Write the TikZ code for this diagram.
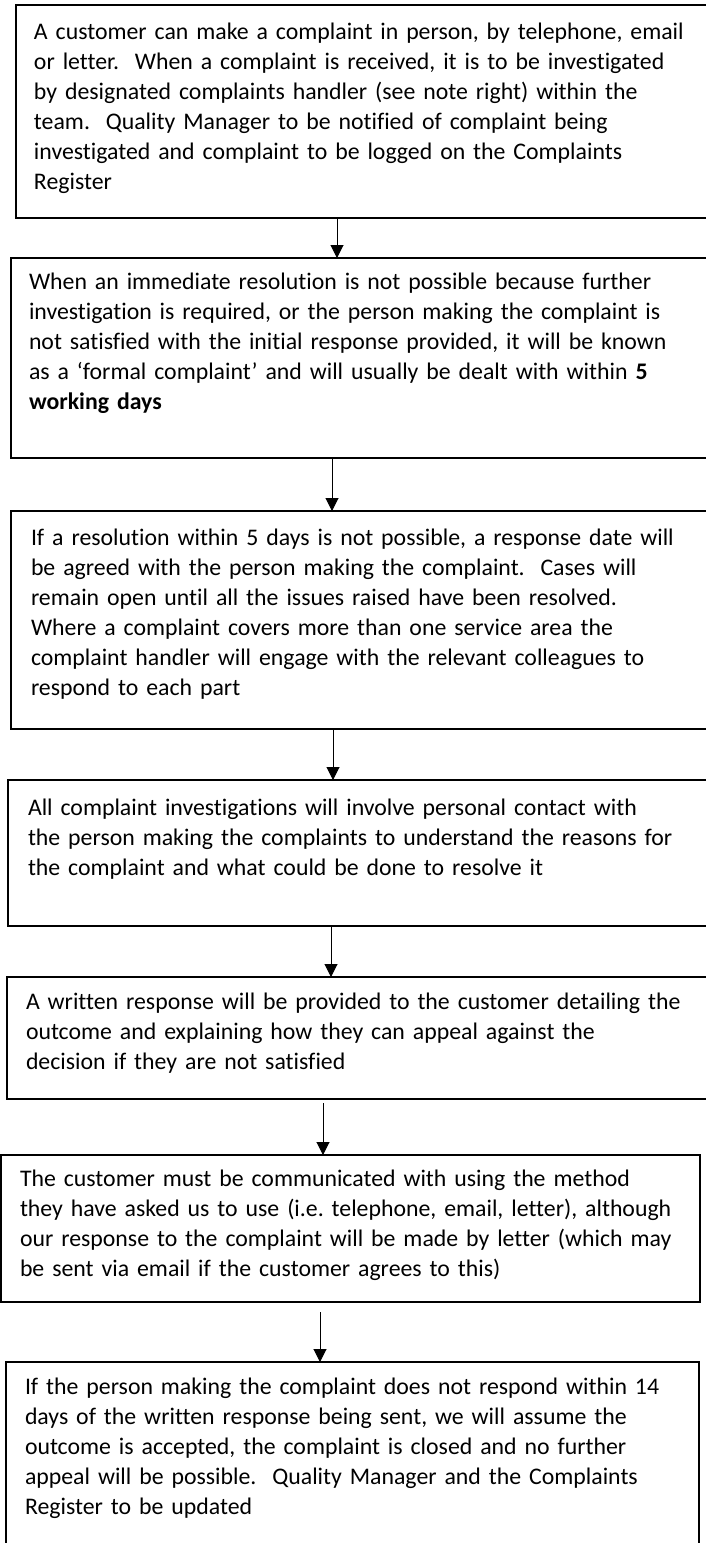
\documentclass[tikz,border=0pt]{standalone}
\usepackage{fontspec}
\setmainfont{Carlito}[RawFeature={-liga}]
\usetikzlibrary{arrows.meta}
\tikzset{
  box/.style={draw=black, line width=1.6pt, inner sep=0pt, outer sep=0pt, anchor=north west},
  txt/.style={anchor=base west, inner sep=0pt, outer sep=0pt, text width=700pt, align=left,
              font=\fontsize{23.8}{30}\selectfont\frenchspacing},
  arr/.style={line width=1pt, -{Triangle[width=13pt,length=13pt]}}
}
\begin{document}
\begin{tikzpicture}[x=1pt,y=-1pt]
\useasboundingbox (0,0) rectangle (706,1543);
\clip (0,0) rectangle (706,1543);
\fill[white] (0,0) rectangle (706,1543);
% boxes
\node[box, line width=2.2pt, minimum width=714pt, minimum height=213pt] (b1) at (16,5) {};
\node[box, minimum width=719pt, minimum height=200pt] (b2) at (11,258) {};
\node[box, minimum width=719pt, minimum height=218pt] (b3) at (11,511) {};
\node[box, minimum width=722pt, minimum height=146pt] (b4) at (8,780) {};
\node[box, minimum width=723pt, minimum height=122pt] (b5) at (7,977) {};
\node[box, minimum width=699pt, minimum height=147pt] (b6) at (1,1155) {};
\node[box, minimum width=693pt, minimum height=220pt] (b7) at (6,1362) {};
% texts
\node[txt] (t1) at (34,39) {A customer can make a complaint in person, by telephone, email\\
or letter.~~When a complaint is received, it is to be investigated\\
by designated complaints handler (see note right) within the\\
team.~~Quality Manager to be notified of complaint being\\
investigated and complaint to be logged on the Complaints\\
Register};
\node[txt] (t2) at (29,289) {When an immediate resolution is not possible because further\\
investigation is required, or the person making the complaint is\\
not satisfied with the initial response provided, it will be known\\
as a `formal complaint' and will usually be dealt with within \textbf{5}\\
\textbf{working days}};
\node[txt] (t3) at (31,545) {If a resolution within 5 days is not possible, a response date will\\
be agreed with the person making the complaint.~~Cases will\\
remain open until all the issues raised have been resolved.\\
Where a complaint covers more than one service area the\\
complaint handler will engage with the relevant colleagues to\\
respond to each part};
\node[txt] (t4) at (28,815) {All complaint investigations will involve personal contact with\\
the person making the complaints to understand the reasons for\\
the complaint and what could be done to resolve it};
\node[txt] (t5) at (26,1009) {A written response will be provided to the customer detailing the\\
outcome and explaining how they can appeal against the\\
decision if they are not satisfied};
\node[txt] (t6) at (20,1186) {The customer must be communicated with using the method\\
they have asked us to use (i.e. telephone, email, letter), although\\
our response to the complaint will be made by letter (which may\\
be sent via email if the customer agrees to this)};
\node[txt] (t7) at (25,1394) {If the person making the complaint does not respond within 14\\
days of the written response being sent, we will assume the\\
outcome is accepted, the complaint is closed and no further\\
appeal will be possible.~~Quality Manager and the Complaints\\
Register to be updated};
% arrow columns
\coordinate (c1) at (337,0);
\coordinate (c2) at (332,0);
\coordinate (c3) at (333,0);
\coordinate (c4) at (331,0);
\coordinate (c5) at (323,0);
\coordinate (c6) at (320,0);
\draw[arr] (b1.south -| c1) -- (b2.north -| c1);
\draw[arr] (b2.south -| c2) -- (b3.north -| c2);
\draw[arr] (b3.south -| c3) -- (b4.north -| c3);
\draw[arr] (b4.south -| c4) -- (b5.north -| c4);
\draw[arr, shorten <=4pt] (b5.south -| c5) -- (b6.north -| c5);
\draw[arr, shorten <=10pt] (b6.south -| c6) -- (b7.north -| c6);
\end{tikzpicture}
\end{document}
